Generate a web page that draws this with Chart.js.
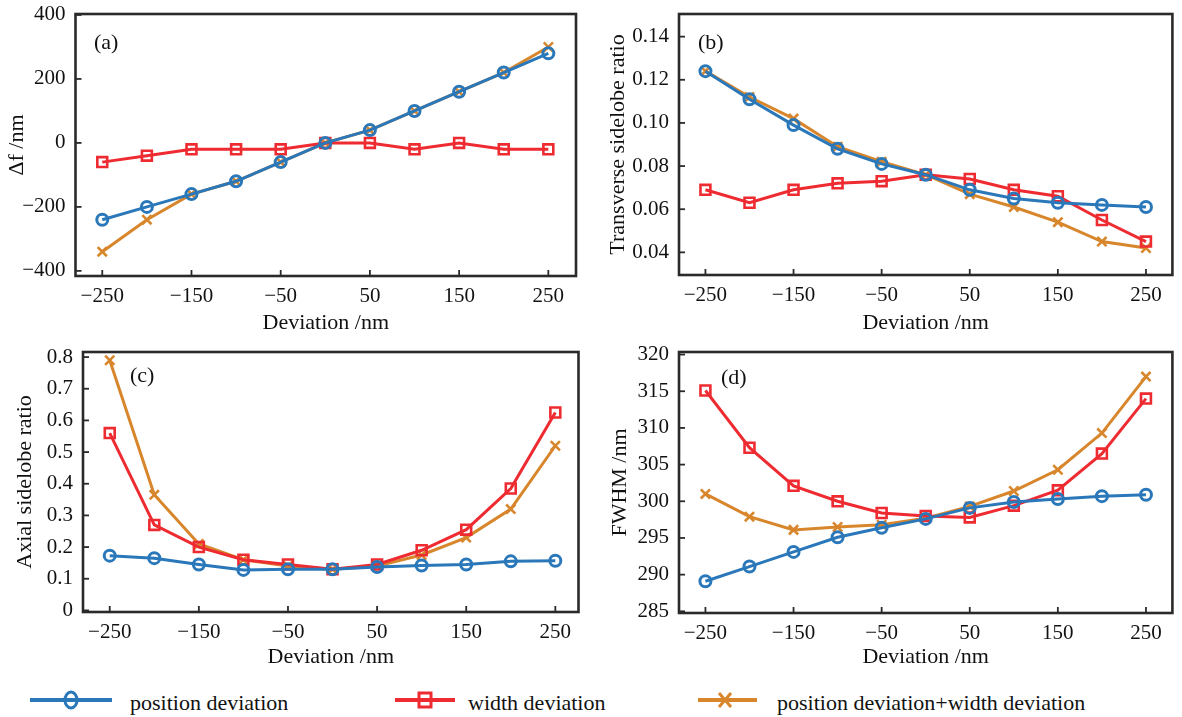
<!DOCTYPE html>
<html>
<head>
<meta charset="utf-8">
<script src="https://cdn.jsdelivr.net/npm/chart.js@4.4.0/dist/chart.umd.min.js"></script>
<style>
  body { margin: 0; background: #fff; width: 1182px; height: 717px; overflow: hidden; position: relative; font-family: "Liberation Serif", serif; color: #111; }
  canvas { position: absolute; }
  .tag { position: absolute; font-size: 22px; line-height: 22px; }
  .leg { position: absolute; top: 688px; height: 30px; }
  .leg svg { position: absolute; top: 0; }
  .leg span { position: absolute; top: 2px; font-size: 22px; line-height: 26px; white-space: nowrap; }
</style>
</head>
<body>
<canvas id="chartA" width="590" height="340" style="left:0;top:0"></canvas>
<canvas id="chartB" width="592" height="340" style="left:590px;top:0"></canvas>
<canvas id="chartC" width="590" height="330" style="left:0;top:340px"></canvas>
<canvas id="chartD" width="592" height="330" style="left:590px;top:340px"></canvas>

<div class="tag" style="left:94px;top:31px">(a)</div>
<div class="tag" style="left:698px;top:31px">(b)</div>
<div class="tag" style="left:130px;top:364px">(c)</div>
<div class="tag" style="left:721px;top:366px">(d)</div>

<div class="leg" style="left:0">
  <svg width="125" height="30" style="left:25px">
    <line x1="5" y1="12" x2="87" y2="12" stroke="#2a78b9" stroke-width="4"/>
    <ellipse cx="46" cy="12" rx="6" ry="8" fill="none" stroke="#2a78b9" stroke-width="3"/>
  </svg>
  <span style="left:130px">position deviation</span>
</div>
<div class="leg" style="left:0">
  <svg width="70" height="30" style="left:390px">
    <line x1="5" y1="12" x2="65" y2="12" stroke="#ee2b31" stroke-width="4"/>
    <rect x="29" y="5" width="12" height="14" fill="none" stroke="#ee2b31" stroke-width="3"/>
  </svg>
  <span style="left:468px">width deviation</span>
</div>
<div class="leg" style="left:0">
  <svg width="70" height="30" style="left:693px">
    <line x1="5" y1="12" x2="64" y2="12" stroke="#d8862c" stroke-width="4"/>
    <path d="M26 5 L38 19 M38 5 L26 19" stroke="#d8862c" stroke-width="3"/>
  </svg>
  <span style="left:777px">position deviation+width deviation</span>
</div>

<script>
// data
const deviation = [-250, -200, -150, -100, -50, 0, 50, 100, 150, 200, 250];
const deviationTicks = [-250, -150, -50, 50, 150, 250];
const seriesNames = ['position deviation', 'width deviation', 'position deviation+width deviation'];

// (a) focal shift
const shiftPos = [-240, -200, -160, -120, -60, 0, 40, 100, 160, 220, 280];
const shiftWidth = [-60, -40, -20, -20, -20, 0, 0, -20, 0, -20, -20];
const shiftBoth = [-340, -240, -160, -120, -60, 0, 40, 100, 160, 220, 300];
const shiftTicks = [-400, -200, 0, 200, 400];

// (b) transverse sidelobe ratio
const transPos = [0.124, 0.111, 0.099, 0.088, 0.081, 0.076, 0.069, 0.065, 0.063, 0.062, 0.061];
const transWidth = [0.069, 0.063, 0.069, 0.072, 0.073, 0.076, 0.074, 0.069, 0.066, 0.055, 0.045];
const transBoth = [0.124, 0.112, 0.102, 0.089, 0.082, 0.076, 0.067, 0.061, 0.054, 0.045, 0.042];
const transTicks = [0.04, 0.06, 0.08, 0.10, 0.12, 0.14];

// (c) axial sidelobe ratio
const axialPos = [0.173, 0.165, 0.145, 0.128, 0.130, 0.130, 0.137, 0.142, 0.145, 0.155, 0.157];
const axialWidth = [0.56, 0.27, 0.20, 0.16, 0.145, 0.13, 0.145, 0.19, 0.255, 0.385, 0.625];
const axialBoth = [0.79, 0.365, 0.21, 0.16, 0.14, 0.13, 0.14, 0.175, 0.23, 0.32, 0.52];
const axialTicks = [0, 0.1, 0.2, 0.3, 0.4, 0.5, 0.6, 0.7, 0.8];

// (d) FWHM
const fwhmPos = [289.1, 291.1, 293.1, 295.1, 296.4, 297.6, 299.1, 299.9, 300.3, 300.7, 300.9];
const fwhmWidth = [315.1, 307.3, 302.1, 300.0, 298.4, 298.0, 297.8, 299.4, 301.5, 306.5, 314.0];
const fwhmBoth = [301.0, 297.9, 296.1, 296.5, 296.8, 297.7, 299.3, 301.4, 304.3, 309.3, 317.0];
const fwhmTicks = [285, 290, 295, 300, 305, 310, 315, 320];

const colors = ['#2a78b9', '#ee2b31', '#d8862c'];
const FONT = "'Liberation Serif', serif";

// box frame + inward tick marks
const framePlugin = {
    id: 'frame',
    beforeDatasetsDraw(chart) {
        const {ctx, chartArea: a, scales} = chart;
        ctx.save();
        ctx.strokeStyle = '#2a2a2a';
        ctx.lineWidth = 1.8;
        scales.x.ticks.forEach(t => {
            const px = scales.x.getPixelForValue(t.value);
            ctx.beginPath();
            ctx.moveTo(px, a.bottom);
            ctx.lineTo(px, a.bottom - 6);
            ctx.stroke();
        });
        scales.y.ticks.forEach(t => {
            const py = scales.y.getPixelForValue(t.value);
            ctx.beginPath();
            ctx.moveTo(a.left, py);
            ctx.lineTo(a.left + 6, py);
            ctx.stroke();
        });
        ctx.lineWidth = 2.6;
        ctx.strokeRect(a.left, a.top, a.right - a.left, a.bottom - a.top);
        ctx.restore();
    }
};

const fixBox = (size) => (scale) => {
    if (scale.isHorizontal()) scale.height = size; else scale.width = size;
    scale.paddingTop = scale.paddingBottom = scale.paddingLeft = scale.paddingRight = 0;
};

const setTicks = (values) => (scale) => {
    scale.ticks = values.map(v => ({value: v}));
};

const minus = (s) => String(s).replace('-', '\u2212');

const makeSet = (i, values) => ({
    label: seriesNames[i],
    data: deviation.map((x, k) => ({x: x, y: values[k]})),
    borderColor: colors[i],
    pointBorderColor: colors[i],
    pointBackgroundColor: 'rgba(0,0,0,0)',
    borderWidth: 3,
    pointBorderWidth: [3, 2.6, 2.6][i],
    pointStyle: ['circle', 'rect', 'crossRot'][i],
    pointRadius: [5.5, 7, 6.5][i],
    clip: false
});

const renderPanel = (id, p) => {
    new Chart(document.getElementById(id), {
        type: 'line',
        data: {
            datasets: [makeSet(0, p.pos), makeSet(1, p.width), makeSet(2, p.both)]
        },
        options: {
            responsive: false,
            animation: false,
            layout: { padding: { left: 0, right: p.padRight, top: p.padTop, bottom: 0 } },
            plugins: { legend: { display: false }, tooltip: { enabled: false } },
            scales: {
                x: {
                    type: 'linear',
                    min: p.xMin,
                    max: p.xMax,
                    afterBuildTicks: setTicks(deviationTicks),
                    afterFit: fixBox(p.xHeight),
                    grid: { display: false, drawTicks: false },
                    border: { display: false },
                    ticks: {
                        padding: 8,
                        color: '#111',
                        font: { family: FONT, size: 21 },
                        callback: (v) => minus(v)
                    },
                    title: {
                        display: true,
                        text: 'Deviation /nm',
                        color: '#111',
                        font: { family: FONT, size: 22 },
                        padding: { top: 0, bottom: p.xTitlePad }
                    }
                },
                y: {
                    type: 'linear',
                    min: p.yMin,
                    max: p.yMax,
                    afterBuildTicks: setTicks(p.ticks),
                    afterFit: fixBox(p.yWidth),
                    grid: { display: false, drawTicks: false },
                    border: { display: false },
                    ticks: {
                        padding: 10,
                        color: '#111',
                        font: { family: FONT, size: 21 },
                        callback: p.fmt
                    },
                    title: {
                        display: true,
                        text: p.yTitle,
                        color: '#111',
                        font: { family: FONT, size: 22 },
                        padding: { top: p.yTitlePad, bottom: 0 }
                    }
                }
            }
        },
        plugins: [framePlugin]
    });
};

renderPanel('chartA', {
    pos: shiftPos, width: shiftWidth, both: shiftBoth, ticks: shiftTicks,
    xMin: -280, xMax: 281, yMin: -416, yMax: 403,
    yTitle: '\u0394f /nm', fmt: (v) => minus(v),
    padRight: 14, padTop: 14, yWidth: 75.5, xHeight: 64, yTitlePad: 4, xTitlePad: 3.5
});

renderPanel('chartB', {
    pos: transPos, width: transWidth, both: transBoth, ticks: transTicks,
    xMin: -280, xMax: 280, yMin: 0.0295, yMax: 0.1505,
    yTitle: 'Transverse sidelobe ratio', fmt: (v) => v.toFixed(2),
    padRight: 3, padTop: 14, yWidth: 89, xHeight: 65, yTitlePad: 15, xTitlePad: 3.5
});

renderPanel('chartC', {
    pos: axialPos, width: axialWidth, both: axialBoth, ticks: axialTicks,
    xMin: -280, xMax: 276, yMin: -0.005, yMax: 0.816,
    yTitle: 'Axial sidelobe ratio', fmt: (v) => (v === 0 ? '0' : v.toFixed(1)),
    padRight: 11.5, padTop: 12, yWidth: 83, xHeight: 58, yTitlePad: 12, xTitlePad: 0
});

renderPanel('chartD', {
    pos: fwhmPos, width: fwhmWidth, both: fwhmBoth, ticks: fwhmTicks,
    xMin: -280, xMax: 280, yMin: 284.77, yMax: 320.35,
    yTitle: 'FWHM /nm', fmt: (v) => String(v),
    padRight: 3, padTop: 12, yWidth: 89, xHeight: 57, yTitlePad: 17, xTitlePad: 0
});
</script>
</body>
</html>
